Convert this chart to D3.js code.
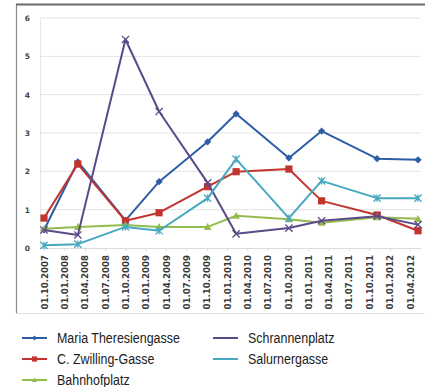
<!DOCTYPE html>
<html><head><meta charset="utf-8">
<script src="https://cdn.jsdelivr.net/npm/d3@7"></script>
<style>
html,body{margin:0;padding:0;background:#fff;}
svg{display:block;}
</style></head>
<body>
<svg id="c" width="425" height="387"></svg>
<script>
const tickLabels = ["01.10.2007","01.01.2008","01.04.2008","01.07.2008","01.10.2008","01.01.2009","01.04.2009","01.07.2009","01.10.2009","01.01.2010","01.04.2010","01.07.2010","01.10.2010","01.01.2011","01.04.2011","01.07.2011","01.10.2011","01.01.2012","01.04.2012"];
const dates = ["01.10.2007","01.03.2008","01.10.2008","01.03.2009","05.10.2009","10.02.2010","05.10.2010","01.03.2011","05.11.2011","07.05.2012"];
const yTicks = [0,1,2,3,4,5,6];
const seriesNames = ["Maria Theresiengasse","C. Zwilling-Gasse","Bahnhofplatz","Schrannenplatz","Salurnergasse"];
const mariaTheresiengasse = [0.47,2.25,0.72,1.73,2.77,3.5,2.35,3.05,2.33,2.3];
const cZwillingGasse      = [0.78,2.19,0.71,0.92,1.6,1.99,2.06,1.23,0.86,0.45];
const bahnhofplatz        = [0.5,0.55,0.6,0.55,0.55,0.84,0.75,0.66,0.8,0.76];
const schrannenplatz      = [0.47,0.34,5.44,3.56,1.7,0.37,0.52,0.71,0.83,0.61];
const salurnergasse       = [0.07,0.1,0.55,0.45,1.3,2.32,0.78,1.75,1.3,1.3];
const colors = ["#2d5da6","#c2352f","#93bb4e","#5b4a88","#47a8c2"];
const markers = ["diamond","square","triangle","x","star"];
const allSeries = [mariaTheresiengasse,cZwillingGasse,bahnhofplatz,schrannenplatz,salurnergasse];

const parse = d3.timeParse("%d.%m.%Y");
const svg = d3.select("#c");
const x = d3.scaleTime().domain([parse(tickLabels[0]), parse(tickLabels[tickLabels.length-1])]).range([44,410]);
const y = d3.scaleLinear().domain([0,6]).range([248,18]);
const plotL = 40, plotR = 421;

// frame
svg.append("line").attr("x1",16.5).attr("x2",16.5).attr("y1",4).attr("y2",314).attr("stroke","#8a8a8a").attr("stroke-width",1.2);
svg.append("line").attr("x1",16).attr("x2",425).attr("y1",4.5).attr("y2",4.5).attr("stroke","#6a6a6a").attr("stroke-width",2);
svg.append("line").attr("x1",16).attr("x2",425).attr("y1",313.5).attr("y2",313.5).attr("stroke","#e2e2e2").attr("stroke-width",1);

// gridlines
svg.append("g").selectAll("line").data(yTicks.filter(d=>d>0)).join("line")
  .attr("x1",plotL).attr("x2",plotR).attr("y1",d=>y(d)).attr("y2",d=>y(d))
  .attr("stroke","#e4e4e4").attr("stroke-width",1);

// y axis
const yAxis = svg.append("g").attr("transform",`translate(${plotL},0)`)
  .call(d3.axisLeft(y).tickValues(yTicks).tickSize(0).tickPadding(10).tickFormat(d3.format("d")));
yAxis.select(".domain").attr("stroke","#e6e6e6");
yAxis.selectAll("text").attr("font-family","DejaVu Sans").attr("font-weight","bold").attr("font-size",7.5).attr("fill","#444");

// x axis
const xAxis = svg.append("g").attr("transform",`translate(0,${y(0)})`)
  .call(d3.axisBottom(x).tickValues(tickLabels.map(parse)).tickSize(3).tickFormat(d3.timeFormat("%d.%m.%Y")));
xAxis.select(".domain").attr("d",`M${plotL},0.5H${plotR}`).attr("stroke","#dcdcdc");
xAxis.selectAll(".tick line").attr("stroke","#dcdcdc");
xAxis.selectAll("text").attr("font-family","DejaVu Sans").attr("font-weight","bold").attr("font-size",8.6).attr("fill","#3a3a3a")
  .attr("transform","rotate(-90)").attr("text-anchor","end").attr("dy","0.35em").attr("x",-7).attr("y",0);

function marker(g, type, color, size){
  const s = size;
  if(type==="diamond") g.append("path").attr("d",`M0,${-s}L${s},0L0,${s}L${-s},0Z`).attr("fill",color);
  else if(type==="square") g.append("rect").attr("x",-s).attr("y",-s).attr("width",2*s).attr("height",2*s).attr("fill",color);
  else if(type==="triangle") g.append("path").attr("d",`M0,${-s}L${s},${s*0.8}L${-s},${s*0.8}Z`).attr("fill",color);
  else if(type==="x") g.append("path").attr("d",`M${-s},${-s}L${s},${s}M${-s},${s}L${s},${-s}`).attr("stroke",color).attr("stroke-width",1.3);
  else g.append("path").attr("d",`M${-s},${-s}L${s},${s}M${-s},${s}L${s},${-s}M0,${-s}L0,${s}`).attr("stroke",color).attr("stroke-width",1.3);
}

const line = d3.line().x((d,i)=>x(parse(dates[i]))).y(d=>y(d));
const sizes = [3.6,3.6,3.8,3.6,3.6];
allSeries.forEach((vals,k)=>{
  const g = svg.append("g");
  g.append("path").datum(vals).attr("d",line).attr("fill","none").attr("stroke",colors[k]).attr("stroke-width",2).attr("stroke-linejoin","round");
  vals.forEach((v,i)=>{
    const m = g.append("g").attr("transform",`translate(${x(parse(dates[i]))},${y(v)})`);
    marker(m, markers[k], colors[k], sizes[k]);
  });
});

// legend (condensed look via horizontal scaling)
const legPos = [[22,338],[22,359],[22,380],[213,338],[213,359]];
const legFont = "'Liberation Sans',Arial,sans-serif";
const probe = svg.append("text").attr("font-family",legFont).attr("font-size",14.5).text(seriesNames[0]);
const sx = 123 / probe.node().getComputedTextLength();
probe.remove();
seriesNames.forEach((name,k)=>{
  const [lx,ly] = legPos[k];
  const g = svg.append("g").attr("transform",`translate(${lx},${ly})`);
  g.append("line").attr("x1",0).attr("x2",25).attr("y1",0).attr("y2",0).attr("stroke",colors[k]).attr("stroke-width",2);
  if(k<3){ const m=g.append("g").attr("transform","translate(12.5,0)"); marker(m, markers[k], colors[k], 2.6); }
  g.append("text").attr("transform",`translate(35,0) scale(${sx},1)`).attr("dy","0.36em").text(name)
   .attr("font-family",legFont).attr("font-size",14.5).attr("fill","#222");
});
</script>
</body></html>
